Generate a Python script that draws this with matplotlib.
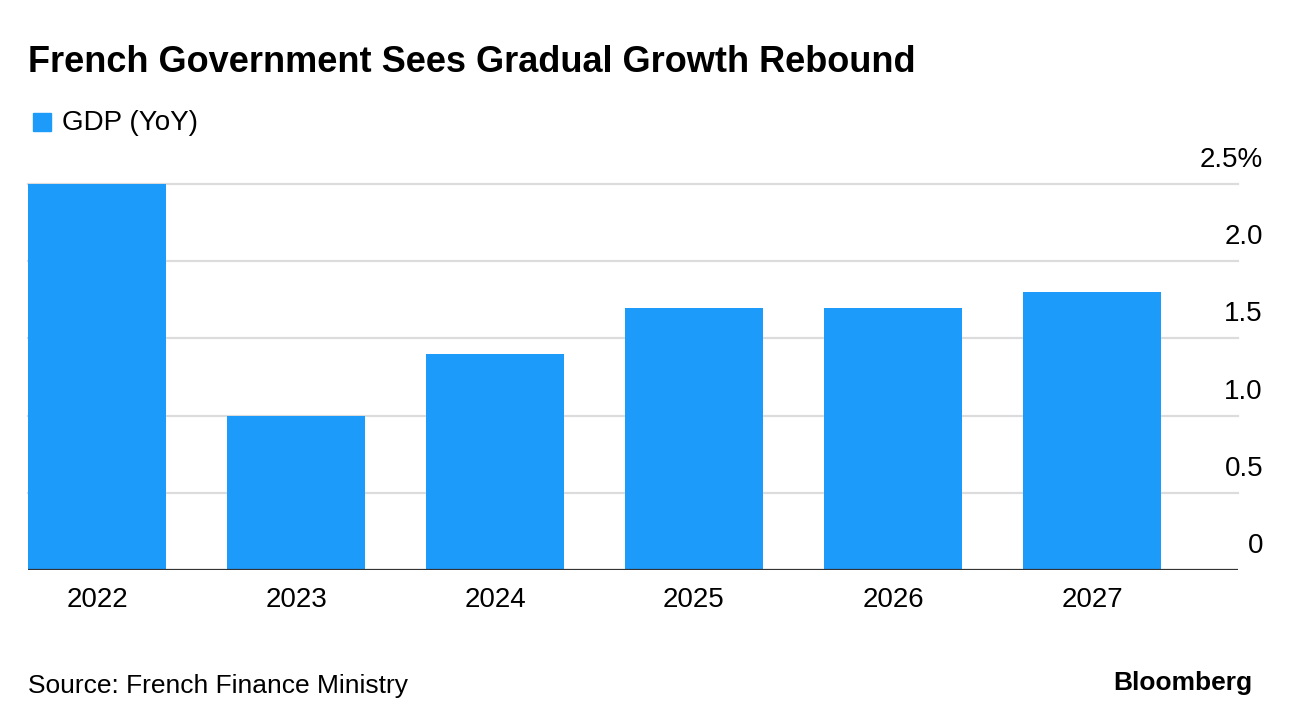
import matplotlib.pyplot as plt

years = ["2022", "2023", "2024", "2025", "2026", "2027"]
gdp = [2.5, 1.0, 1.4, 1.7, 1.7, 1.8]
yticks = [0, 0.5, 1.0, 1.5, 2.0, 2.5]
ytick_labels = ["0", "0.5", "1.0", "1.5", "2.0", "2.5%"]

blue = "#1d9bfb"
plt.rcParams["font.family"] = ["Liberation Sans", "DejaVu Sans"]

W, H = 1292, 726
fig = plt.figure(figsize=(W / 100, H / 100), dpi=100)
ax = fig.add_axes([28 / W, 1 - 570 / H, (1238 - 28) / W, (570 - 184) / H])

x = range(len(years))
ax.bar(x, gdp, width=0.693, color=blue, zorder=2)
ax.set_xlim(-0.347, 5.734)
ax.set_ylim(0, 2.5)

for v in yticks[1:]:
    ax.axhline(v, color="#dcdcdc", lw=1.6, zorder=1, clip_on=False)
ax.axhline(0, color="#333333", lw=1.6, zorder=3)

for s in ax.spines.values():
    s.set_visible(False)
ax.set_yticks([])
ax.set_xticks(list(x))
ax.set_xticklabels(years, fontsize=20)
ax.tick_params(axis="x", length=0, pad=12)

# y labels sit above their gridlines, right of the plot
for v, lab in zip(yticks, ytick_labels):
    ax.annotate(lab, xy=(1, v), xycoords=("axes fraction", "data"),
                xytext=(25, 11), textcoords="offset pixels",
                ha="right", va="bottom", fontsize=20)

fig.text(28 / W, 1 - 63 / H, "French Government Sees Gradual Growth Rebound",
         fontsize=26, fontweight="bold", va="center", ha="left")

fig.patches.append(plt.Rectangle((33 / W, 1 - 131 / H), 18 / W, 18 / H,
                                 transform=fig.transFigure, color=blue))
fig.text(62 / W, 1 - 123 / H, "GDP (YoY)", fontsize=20, va="center", ha="left")

fig.text(28 / W, 1 - 686 / H, "Source: French Finance Ministry",
         fontsize=19, va="center", ha="left")
fig.text(1252 / W, 1 - 683 / H, "Bloomberg", fontsize=19, fontweight="bold",
         va="center", ha="right")

fig.savefig("out.png", dpi=100)
